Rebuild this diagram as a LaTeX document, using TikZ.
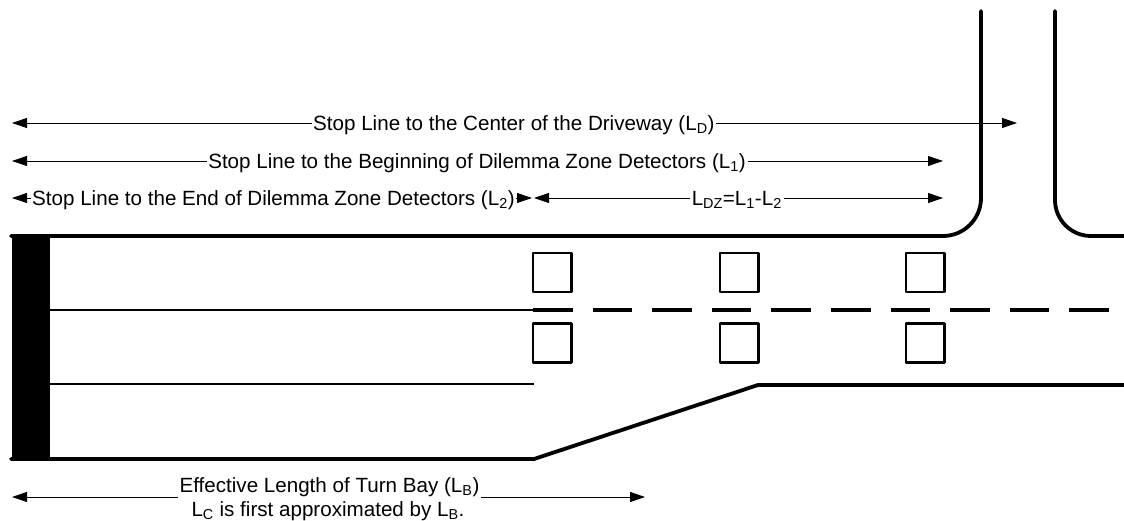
\documentclass[tikz,border=0pt]{standalone}
\usepackage{fontspec}
\setmainfont{Liberation Sans}
\usetikzlibrary{arrows.meta}
\begin{document}
\begin{tikzpicture}[x=1pt,y=-1pt,
  lbl/.style={inner sep=1.5pt, font=\fontsize{20.6}{24}\selectfont, text height=14.75pt, text depth=0pt},
  arr/.style={line width=0.9pt, -{Triangle[length=15pt,width=10pt]}},
  road/.style={line width=3.8pt, line cap=round, line join=round},
  lane/.style={line width=2.6pt},
  dashlane/.style={line width=3.6pt, dash pattern=on 39.5pt off 20.1pt},
  det/.style={line width=2.4pt, line join=round}]
\useasboundingbox (0,0) rectangle (1124,521);

% road
\fill (12,236) rectangle (50,459);
\draw[road, rounded corners=38pt] (11,236) -- (981,236) -- (981,11);
\draw[road, rounded corners=36pt] (1055,11) -- (1055,236) -- (1126,236);
\draw[road] (11,459) -- (534,459) -- (758,385) -- (1126,385);
\draw[lane] (50,310) -- (533,310);
\draw[dashlane] (533,310) -- (1110,310);
\draw[lane] (50,384) -- (534,384);

% detectors
\foreach \x in {533,720,906}{
  \draw[det] (\x,253) rectangle ++(38.5,39);
  \draw[det] (\x,323.5) rectangle ++(38.5,39);
}

% dimension row 1
\node[lbl, anchor=west] (t1) at (311.5,123) {Stop Line to the Center of the Driveway (L\textsubscript{D})};
\coordinate (t1l) at (12,123);
\coordinate (t1r) at (1017,123);
\draw[arr] (t1.west) -- (t1l);
\draw[arr] (t1.east) -- (t1r);

% dimension row 2
\node[lbl, anchor=east] (t2) at (747.5,161) {Stop Line to the Beginning of Dilemma Zone Detectors (L\textsubscript{1})};
\coordinate (t2l) at (12,161);
\coordinate (t2r) at (943,161);
\draw[arr] (t2.west) -- (t2l);
\draw[arr] (t2.east) -- (t2r);

% dimension row 3
\node[lbl, anchor=west] (t3) at (30.5,198) {Stop Line to the End of Dilemma Zone Detectors (L\textsubscript{2})};
\coordinate (t3l) at (12,198);
\coordinate (t3r) at (532,198);
\draw[arr] (t3.west) -- (t3l);
\draw[arr] (t3.east) -- (t3r);

\node[lbl, anchor=east] (t4) at (783.5,198) {L\textsubscript{DZ}=L\textsubscript{1}-L\textsubscript{2}};
\coordinate (t4l) at (534,198);
\coordinate (t4r) at (943,198);
\draw[arr] (t4.west) -- (t4l);
\draw[arr] (t4.east) -- (t4r);

% turn bay
\node[lbl] (b1) at (329.5,485) {Effective Length of Turn Bay (L\textsubscript{B})};
\node[lbl] (b2) at (328,509) {L\textsubscript{C} is first approximated by L\textsubscript{B}.};
\coordinate (bl) at (12,497);
\coordinate (br) at (645,497);
\draw[arr] (b1.west |- bl) -- (bl);
\draw[arr] (b1.east |- br) -- (br);
\end{tikzpicture}
\end{document}
